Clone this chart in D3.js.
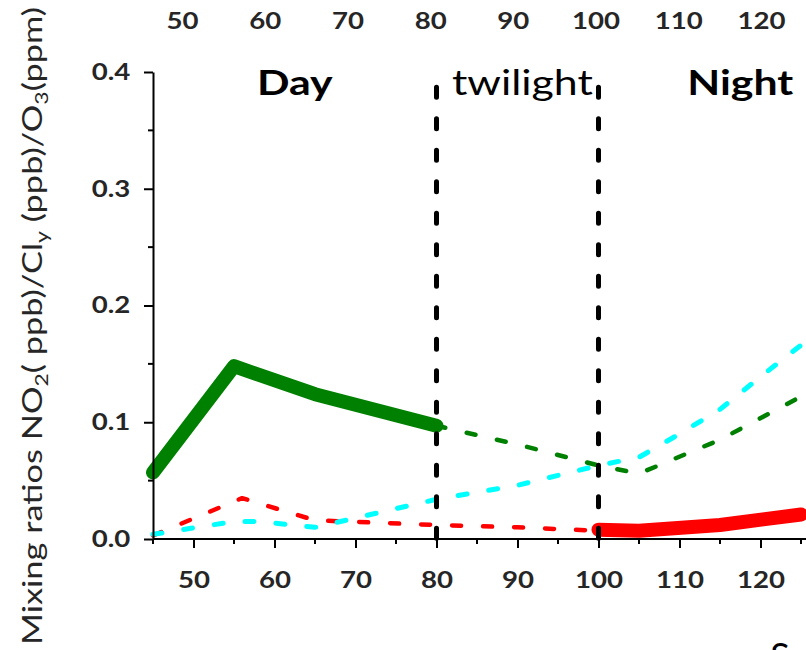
<!DOCTYPE html>
<html>
<head>
<meta charset="utf-8">
<script src="https://cdn.jsdelivr.net/npm/d3@7"></script>
<style>
  body { margin: 0; background: #fff; }
  svg { display: block; }
</style>
</head>
<body>
<div id="container"></div>
<script>
const width = 806; // Chart's dimensions
const height = 650;
const axisLeftX = 153; // where the y axis sits
const axisRightX = 801;
const axisTopY = 72;
const axisBottomY = 539;
const stretch = 1.2; // the reference letters are wider than Lato

// x positions of the labels and ticks
const majorTicks = [50, 60, 70, 80, 90, 100, 110, 120];
const minorTicks = [45, 55, 65, 75, 85, 95, 105, 115, 125];
const yTicks = [0, 0.1, 0.2, 0.3, 0.4];
const yMinorTicks = [0.05, 0.15, 0.25, 0.35];

// period split (vertical dashed lines) and labels
const periodBounds = [80, 100];
const periodNames = ["Day", "twilight", "Night"];
const periodCenters = [62.5, 90.6, 117.5];

// green: thick by day, dashed afterwards
const greenDayX = [45, 55, 65, 80];
const greenDayY = [0.057, 0.148, 0.124, 0.097];
const greenNightX = [80, 90, 100, 105, 115, 125];
const greenNightY = [0.097, 0.081, 0.063, 0.056, 0.085, 0.122];

// cyan: dashed all along
const cyanX = [45, 55, 58, 65, 80, 90, 100, 105, 110, 115, 120, 125];
const cyanY = [0.004, 0.015, 0.015, 0.010, 0.034, 0.046, 0.063, 0.070, 0.090, 0.111, 0.139, 0.166];

// red: dashed until 100, thick at night
const redDayX = [45, 56, 65, 80, 90, 100];
const redDayY = [0.003, 0.035, 0.016, 0.012, 0.010, 0.007];
const redNightX = [100, 105, 115, 125];
const redNightY = [0.008, 0.007, 0.012, 0.021];

function chart() {
  const x = d3.scaleLinear()
    .domain([45, 125])
    .range([axisLeftX, axisRightX]);

  // the labels along the top are spaced a little differently
  const xTop = d3.scaleLinear()
    .domain([50, 120])
    .range([182, 761]);

  const y = d3.scaleLinear()
    .domain([0, 0.4])
    .range([axisBottomY, axisTopY]);

  const svg = d3.select("div#container").append("svg")
    .attr("width", width)
    .attr("height", height)
    .attr("viewBox", [0, 0, width, height]);

  const line = d3.line()
    .x(d => x(d[0]))
    .y(d => y(d[1]));

  function drawSeries(xs, ys, color, w, dashed) {
    svg.append("path")
      .datum(d3.zip(xs, ys))
      .attr("fill", "none")
      .attr("stroke", color)
      .attr("stroke-width", w)
      .attr("stroke-linecap", "round")
      .attr("stroke-linejoin", "round")
      .attr("stroke-dasharray", dashed ? "9,22" : null)
      .attr("d", line);
  }

  drawSeries(redDayX, redDayY, "#ff0000", 4.5, true);
  drawSeries(cyanX, cyanY, "#00ffff", 5, true);
  drawSeries(greenNightX, greenNightY, "#008000", 4.5, true);
  drawSeries(greenDayX, greenDayY, "#008000", 14, false);
  drawSeries(redNightX, redNightY, "#ff0000", 14, false);

  // bottom axis: long ticks with labels, short ones between
  const xAxis = svg.append("g")
    .attr("transform", `translate(0,${axisBottomY})`)
    .call(d3.axisBottom(x).tickValues(majorTicks).tickSize(9).tickPadding(24).tickSizeOuter(0))
    .call(g => g.select(".domain").attr("d", `M${axisLeftX},0H${width}`));
  xAxis.append("g")
    .selectAll("line")
    .data(minorTicks)
    .join("line")
    .attr("x1", d => x(d)).attr("x2", d => x(d))
    .attr("y1", 0).attr("y2", 5)
    .attr("stroke", "#000");

  const yAxis = svg.append("g")
    .attr("transform", `translate(${axisLeftX},0)`)
    .call(d3.axisLeft(y).tickValues(yTicks).tickSize(9).tickPadding(10).tickSizeOuter(0).tickFormat(d3.format(".1f")));
  yAxis.append("g")
    .selectAll("line")
    .data(yMinorTicks)
    .join("line")
    .attr("y1", d => y(d)).attr("y2", d => y(d))
    .attr("x1", 0).attr("x2", -5)
    .attr("stroke", "#000");

  // labels only along the top
  const topAxis = svg.append("g")
    .attr("transform", "translate(0,29)")
    .call(d3.axisTop(xTop).tickValues(majorTicks).tickSize(0).tickPadding(0))
    .call(g => g.select(".domain").remove());

  [xAxis, yAxis, topAxis].forEach(g => {
    g.attr("font-family", "Lato, sans-serif").attr("font-size", null);
    g.selectAll(".domain").attr("stroke", "#000").attr("stroke-width", 2);
    g.selectAll("line").attr("stroke", "#000").attr("stroke-width", 2);
    g.selectAll(".tick text")
      .attr("fill", "#262626")
      .attr("font-size", 23)
      .attr("font-weight", "bold")
      .attr("transform", `scale(${stretch},1)`);
  });

  // period boundaries
  svg.append("g")
    .selectAll("line")
    .data(periodBounds)
    .join("line")
    .attr("x1", d => x(d)).attr("x2", d => x(d))
    .attr("y1", y(0.387)).attr("y2", y(0) + 6)
    .attr("stroke", "#000")
    .attr("stroke-width", 5)
    .attr("stroke-linecap", "round")
    .attr("stroke-dasharray", "10,21.5");

  svg.append("g")
    .selectAll("text")
    .data(periodNames)
    .join("text")
    .attr("transform", (d, i) => `translate(${x(periodCenters[i])},${y(0.38)}) scale(1.26,1)`)
    .attr("text-anchor", "middle")
    .attr("font-family", "Lato, sans-serif")
    .attr("font-size", 34)
    .attr("font-weight", (d, i) => i === 1 ? "normal" : "bold")
    .attr("fill", "#000")
    .text(d => d);

  // y title with subscripts
  const title = svg.append("text")
    .attr("transform", `translate(42,${326}) rotate(-90)`)
    .attr("text-anchor", "middle")
    .attr("font-family", "Lato, sans-serif")
    .attr("font-size", 27)
    .attr("fill", "#262626")
    .attr("textLength", 638)
    .attr("lengthAdjust", "spacingAndGlyphs");
  const parts = [["Mixing ratios NO", 0], ["2", 1], ["( ppb)/Cl", 0], ["y", 1], [" (ppb)/O", 0], ["3", 1], ["(ppm)", 0]];
  let shifted = false;
  parts.forEach(([t, sub]) => {
    const span = title.append("tspan").text(t);
    if (sub) { span.attr("font-size", 18).attr("dy", 6); shifted = true; }
    else if (shifted) { span.attr("dy", -6); shifted = false; }
  });

  // cut-off letter at the bottom right, as in the reference
  svg.append("text")
    .attr("x", 780)
    .attr("y", 669)
    .attr("text-anchor", "middle")
    .attr("font-family", "Lato, sans-serif")
    .attr("font-size", 36)
    .attr("fill", "#000")
    .text("S");
}

chart();
</script>
</body>
</html>
